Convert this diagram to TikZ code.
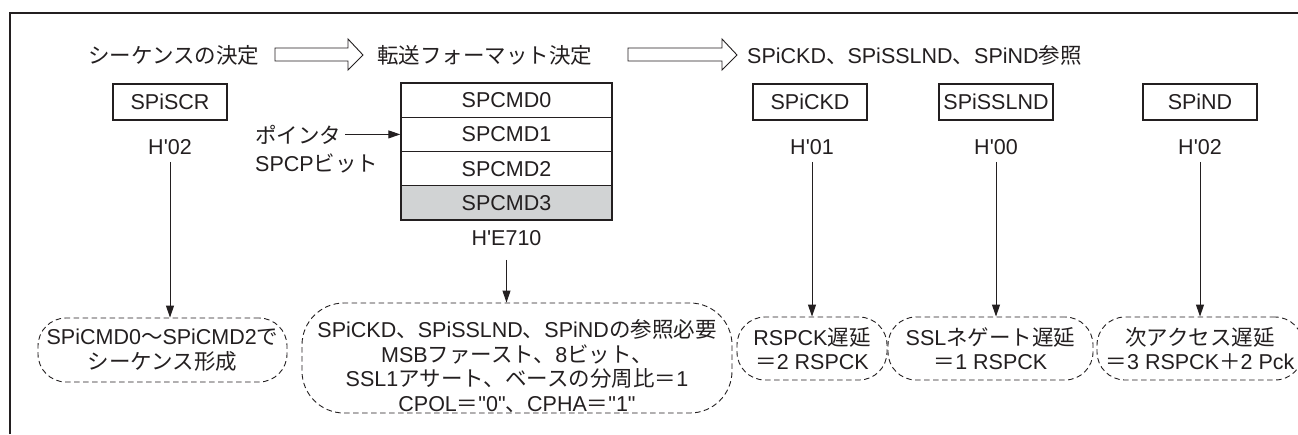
\documentclass[tikz,border=0pt]{standalone}
\usepackage{fontspec}
\setmainfont{Liberation Sans}[Ligatures=TeXOff]
\newfontfamily\jpf{Noto Sans CJK JP}
\newcommand\J[1]{{\jpf #1}}
\usetikzlibrary{arrows.meta}
\definecolor{ink}{RGB}{35,31,32}
\definecolor{cellgray}{RGB}{209,211,212}
\begin{document}
\begin{tikzpicture}[x=1pt,y=-1pt,
  every node/.style={text=ink, font=\fontsize{21.5}{24.5}\selectfont},
  reg/.style={draw=ink, line width=1.4pt, minimum width=114pt, minimum height=36pt, inner sep=0pt},
  cell/.style={draw=ink, line width=1.4pt, minimum width=211pt, minimum height=34.25pt, inner sep=0pt},
  val/.style={inner sep=0pt},
  note/.style={draw=ink, dash pattern=on 5.5pt off 3.5pt, line width=0.9pt, rounded corners=28pt, inner sep=0pt, align=center},
  conn/.style={draw=ink, line width=1pt, shorten <=7pt, -{Triangle[length=12pt,width=8pt]}},
  hollow/.style={draw=ink, line width=0.9pt, fill=white, line join=miter},
  frame/.style={draw=ink, line width=2pt}]
\clip (0,0) rectangle (1298,434);
\fill[white] (0,0) rectangle (1298,434);
\draw[frame] (10,434) -- (10,13) -- (1298,13);

% title row
\node[anchor=west, inner sep=0pt] (t1) at (88,55) {\J{シーケンスの決定}};
\node[anchor=west, inner sep=0pt] (t2) at (377,55) {\J{転送フォーマット決定}};
\node[anchor=west, inner sep=0pt] (t3) at (747,55) {SPiCKD\J{、}SPiSSLND\J{、}SPiND\J{参照}};
\draw[hollow] (275,48) -- (348,48) -- (348,39) -- (363,55) -- (348,70) -- (348,61) -- (275,61) -- cycle;
\draw[hollow] (628,48) -- (722,48) -- (722,39) -- (737,55) -- (722,70) -- (722,61) -- (628,61) -- cycle;

% registers
\node[reg] (scr) at (170,102) {SPiSCR};
\node[val] (vscr) at (170,147) {H\textquotesingle 02};

\node[cell] (c0) at (506.5,100.1) {SPCMD0};
\node[cell] (c1) at (506.5,134.4) {SPCMD1};
\node[cell] (c2) at (506.5,168.6) {SPCMD2};
\node[cell, fill=cellgray] (c3) at (506.5,202.9) {SPCMD3};
\node[val] (vcmd) at (506.5,238) {H\textquotesingle E710};
\node[anchor=west, inner sep=0pt] (p1) at (255,134.4) {\J{ポインタ}};
\node[anchor=west, inner sep=0pt] (p2) at (255,163) {SPCP\J{ビット}};
\draw[conn, shorten <=4pt] (p1.east) -- (c1.west);

\node[reg] (ckd) at (810,102) {SPiCKD};
\node[val] (vckd) at (812,147) {H\textquotesingle 01};
\node[reg] (ssl) at (996,102) {SPiSSLND};
\node[val] (vssl) at (996,147) {H\textquotesingle 00};
\node[reg] (nd) at (1200,102) {SPiND};
\node[val] (vnd) at (1200,147) {H\textquotesingle 02};

% notes
\node[note, minimum width=249pt, minimum height=64pt] (nA) at (162.5,350)
  {SPiCMD0\J{～}SPiCMD2\J{で}\\\J{シーケンス形成}};
\node[note, rounded corners=42pt, minimum width=430pt, minimum height=110pt] (nB) at (517,358) {};
\node[align=center, inner sep=0pt] (nBt) at (517,366)
  {SPiCKD\J{、}SPiSSLND\J{、}SPiND\J{の参照必要}\\
   MSB\J{ファースト、}8\J{ビット、}\\
   SSL1\J{アサート、ベースの分周比＝}1\\
   CPOL\J{＝}"0"\J{、}CPHA\J{＝}"1"};
\node[note, minimum width=150pt, minimum height=63pt] (nC) at (812,348.5)
  {RSPCK\J{遅延}\\\J{＝}2 RSPCK};
\node[note, minimum width=205pt, minimum height=63pt] (nD) at (990.5,348.5)
  {SSL\J{ネゲート遅延}\\\J{＝}1 RSPCK};
\node[note, minimum width=206pt, minimum height=63pt] (nE) at (1200,348.5)
  {\J{次アクセス遅延}\\\J{＝}3 RSPCK\J{＋}2 Pck};

% connectors
\draw[conn] (vscr.south) -- (vscr.south |- nA.north);
\draw[conn, shorten <=14pt] (vcmd.south) -- (vcmd.south |- nB.north);
\draw[conn] (vckd.south) -- (vckd.south |- nC.north);
\draw[conn] (vssl.south) -- (vssl.south |- nD.north);
\draw[conn] (vnd.south) -- (vnd.south |- nE.north);
\end{tikzpicture}
\end{document}
